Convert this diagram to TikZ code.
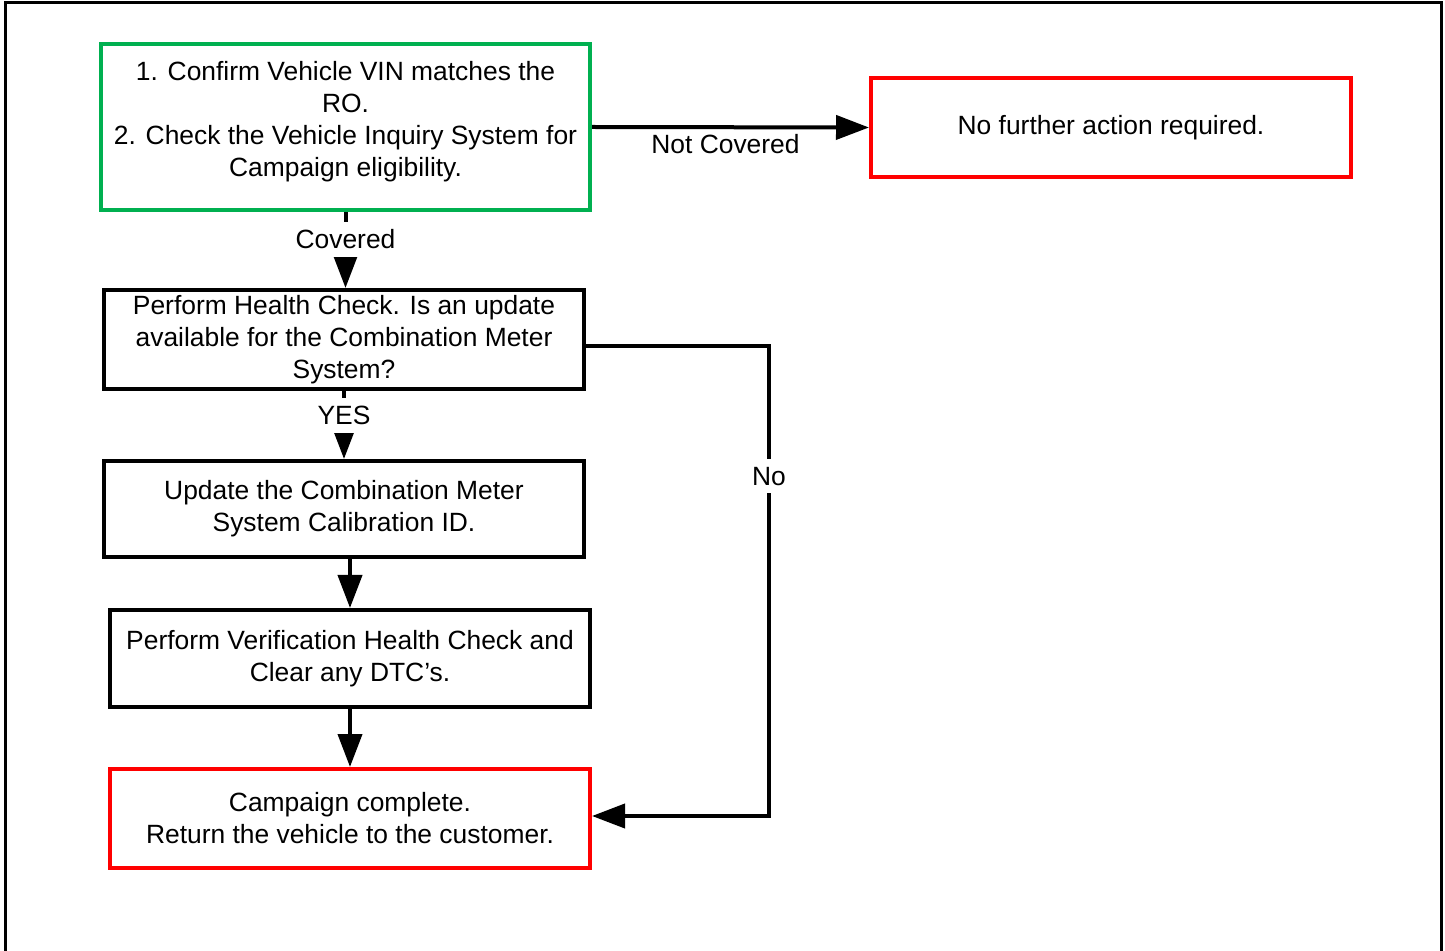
\documentclass[tikz,border=0pt]{standalone}
\usepackage{fontspec}
\setmainfont{Liberation Sans}
\usetikzlibrary{arrows.meta}
\definecolor{boxgreen}{RGB}{0,176,80}
\definecolor{boxred}{RGB}{255,0,0}
\begin{document}
\begin{tikzpicture}[x=0.5pt,y=-0.5pt,
  every node/.style={font=\fontsize{13.2pt}{16pt}\selectfont},
  box/.style={draw, line width=2pt, inner sep=0pt, align=center, minimum width=240pt},
  conn/.style={line width=2pt},
  arr/.style={conn, -{Triangle[length=16.5pt,width=12pt]}},
  lbl/.style={fill=white, inner xsep=2pt, inner ysep=4pt}]
\useasboundingbox (0,0) rectangle (1445,951);
\draw[line width=1.5pt] (5,951) -- (5,3) -- (1441,3) -- (1441,951);
\node[box, draw=boxgreen, minimum width=244.5pt, minimum height=83pt, text depth=8pt] (g) at (345.5,127)
  {1. Confirm Vehicle VIN matches the\\RO.\\2. Check the Vehicle Inquiry System for\\Campaign eligibility.};
\node[box, draw=boxred, minimum height=49.5pt] (r1) at (1111,127.5) {No further action required.};
\node[box, minimum height=49.5pt] (b2) at (344,339.5) {Perform Health Check. Is an update\\available for the Combination Meter\\System?};
\node[box, minimum height=48pt] (b3) at (344,509) {Update the Combination Meter\\System Calibration ID.};
\node[box, minimum height=48.5pt] (b4) at (350,658.5) {Perform Verification Health Check and\\Clear any DTC’s.};
\node[box, draw=boxred, minimum height=49.5pt] (b5) at (350,818.5) {Campaign complete.\\Return the vehicle to the customer.};
\coordinate (n1) at (769,346);
\coordinate (n2) at (769,816);
\draw[arr] (g.east) -- node[below=-1pt, xshift=-2.5pt] {Not Covered} (r1.west);
\draw[arr] (g.south) -- node[lbl, pos=0.36] {Covered} (g.south |- b2.north);
\draw[arr] (b2.south) -- node[lbl, pos=0.36] {YES} (b3.north);
\draw[arr] (b4.north |- b3.south) -- (b4.north);
\draw[arr] (b4.south) -- (b5.north);
\draw[arr] (b2.east |- n1) -- (n1) -- node[lbl, pos=0.277] {No} (n2) -- (b5.east |- n2);
\end{tikzpicture}
\end{document}
